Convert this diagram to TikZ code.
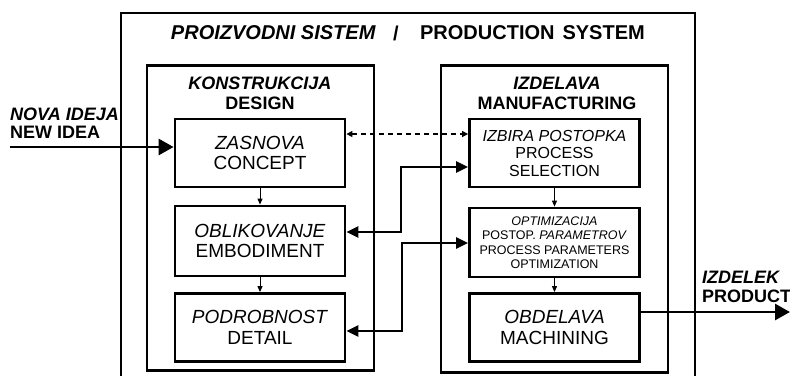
\documentclass[tikz,border=0pt]{standalone}
\usepackage{fontspec}
\setmainfont{Liberation Sans}
\usetikzlibrary{arrows.meta,calc}
\begin{document}
\begin{tikzpicture}[x=1pt,y=-1pt,
  thickline/.style={line width=2.8pt},
  container/.style={draw,line width=2.8pt,minimum width=227pt,inner sep=0pt},
  stepbox/.style={draw,line width=2.8pt,minimum width=170pt,minimum height=68pt,inner sep=0pt,align=center},
  bigtxt/.style={font=\fontsize{19}{20.5}\selectfont},
  midtxt/.style={font=\fontsize{16}{17.5}\selectfont},
  smalltxt/.style={font=\fontsize{12.5}{14.5}\selectfont},
  headtxt/.style={align=center,inner sep=0pt,font=\bfseries\fontsize{18}{20}\selectfont},
  sidetxt/.style={align=left,inner sep=0pt,font=\bfseries\fontsize{18}{18.5}\selectfont},
  titletxt/.style={inner sep=0pt,font=\bfseries\fontsize{20}{22}\selectfont},
  flow/.style={line width=1pt,-{Triangle[length=6pt,width=5pt]}},
  link/.style={line width=2.8pt,{Triangle[length=12pt,width=11pt]}-{Triangle[length=12pt,width=11pt]}},
  io/.style={line width=2.8pt,-{Triangle[length=15pt,width=16pt]}},
  dashlink/.style={line width=1.4pt,dash pattern=on 5pt off 4pt,{Triangle[length=6pt,width=6pt]}-{Triangle[length=6pt,width=6pt]}}
]
\useasboundingbox (0,0) rectangle (790,376);

% outer system frame (bottom is cut off)
\draw[thickline] (121,376) -- (121,13) -- (695,13) -- (695,376);
\node[titletxt,anchor=east] (t1) at (376,33) {\textit{PROIZVODNI SISTEM}};
\node[titletxt] (t2) at (396,33) {/};
\node[titletxt,anchor=east] (t3) at (645,33) {PRODUCTION\hspace{0.4em}SYSTEM};

% containers
\node[container,minimum height=305pt] (design) at (260.5,218) {};
\node[container,minimum height=307pt] (manuf) at (554.5,219) {};
\node[headtxt] (dtitle) at (260,93) {\textit{KONSTRUKCIJA}\\DESIGN};
\node[headtxt] (mtitle) at (557,93) {\textit{IZDELAVA}\\MANUFACTURING};

% design steps
\node[stepbox,bigtxt] (concept) at (260,153) {\textit{ZASNOVA}\\CONCEPT};
\node[stepbox,bigtxt,minimum height=70pt] (embod) at (260,241) {\textit{OBLIKOVANJE}\\EMBODIMENT};
\node[stepbox,bigtxt] (detail) at (260,327.5) {\textit{PODROBNOST}\\DETAIL};

% manufacturing steps
\node[stepbox,midtxt] (procsel) at (554.5,153) {\textit{IZBIRA POSTOPKA}\\PROCESS\\SELECTION};
\node[stepbox,smalltxt,minimum height=69pt] (optim) at (554.5,242.5) {\textit{OPTIMIZACIJA}\\POSTOP. \textit{PARAMETROV}\\PROCESS PARAMETERS\\OPTIMIZATION};
\node[stepbox,bigtxt] (mach) at (554.5,327.5) {\textit{OBDELAVA}\\MACHINING};

% vertical flows
\draw[flow] (concept.south) -- (embod.north);
\draw[flow] (embod.south) -- (detail.north);
\draw[flow] (procsel.south) -- (optim.north);
\draw[flow] (optim.south) -- (mach.north);

% links between design and manufacturing
\coordinate (dl) at (0,134);
\draw[dashlink] (concept.east |- dl) -- (procsel.west |- dl);
\coordinate (l1a) at (401,232);
\coordinate (l1b) at (401,167);
\draw[link] (embod.east |- l1a) -- (l1a) -- (l1b) -- (procsel.west |- l1b);
\coordinate (l2a) at (402,331);
\coordinate (l2b) at (402,243);
\draw[link] (detail.east |- l2a) -- (l2a) -- (l2b) -- (optim.west |- l2b);

% input and output
\node[sidetxt,anchor=west] (newidea) at (10,123) {\textit{NOVA IDEJA}\\NEW IDEA};
\coordinate (instart) at (10,147);
\draw[io] (instart) -- (concept.west |- instart);
\node[sidetxt,anchor=west] (product) at (702,287) {\textit{IZDELEK}\\PRODUCT};
\coordinate (outend) at (790,312);
\draw[io] (mach.east |- outend) -- (outend);
\end{tikzpicture}
\end{document}
